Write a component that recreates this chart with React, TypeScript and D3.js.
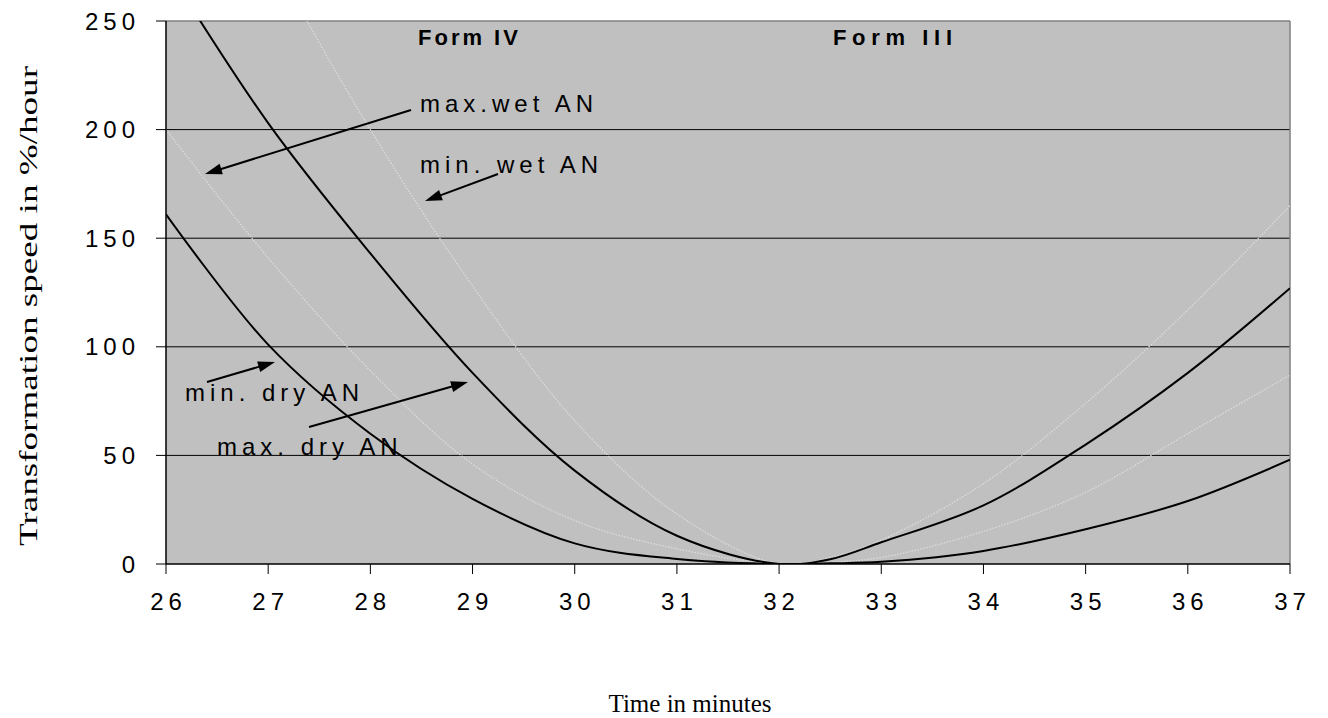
import React from "react";
import * as d3 from "d3";

const minutes = [26, 27, 28, 29, 30, 31, 32, 32.5, 33, 34, 35, 36, 37];
const maxDryAN = [275, 203, 143, 88, 43, 13, 0, 2.2, 10, 27, 55, 88, 127];
const minDryAN = [161, 101, 60, 30, 9.5, 2.3, 0, 0.3, 1, 6, 16, 29, 48];
const maxWetAN = [200, 141, 89, 46, 20, 7, 0, 0.8, 3, 15, 33, 60, 87];
const minWetAN = [380, 283, 200, 128, 66, 23, 0, 3, 11, 37, 74, 117, 165];
const yTicks = [0, 50, 100, 150, 200, 250];
const xTicks = [26, 27, 28, 29, 30, 31, 32, 33, 34, 35, 36, 37];

const W = 1328, H = 718;
const L = 166, R = 1290, T = 21, B = 564;

type Arrow = { x1: number; y1: number; x2: number; y2: number };

export default function App() {
  const x = d3.scaleLinear().domain([26, 37]).range([L, R]);
  const y = d3.scaleLinear().domain([0, 250]).range([B, T]);
  const line = d3
    .line<number>()
    .x((_, i) => x(minutes[i]))
    .y((d) => y(d))
    .curve(d3.curveCatmullRom.alpha(0.5));

  const sans = "'Liberation Sans', Arial, sans-serif";
  const serif = "'Liberation Serif', 'Times New Roman', serif";

  const arrows: Arrow[] = [
    { x1: 411, y1: 110, x2: 205, y2: 174 },
    { x1: 498, y1: 174, x2: 425, y2: 201 },
    { x1: 207, y1: 382, x2: 275, y2: 362 },
    { x1: 309, y1: 427, x2: 468, y2: 382 },
  ];

  const head = (a: Arrow) => {
    const ang = Math.atan2(a.y2 - a.y1, a.x2 - a.x1);
    const len = 17, w = 5.5;
    const bx = a.x2 - len * Math.cos(ang), by = a.y2 - len * Math.sin(ang);
    const px = -Math.sin(ang) * w, py = Math.cos(ang) * w;
    return `M${a.x2},${a.y2}L${bx + px},${by + py}L${bx - px},${by - py}Z`;
  };

  const shaft = (a: Arrow) => {
    const ang = Math.atan2(a.y2 - a.y1, a.x2 - a.x1);
    return { x1: a.x1, y1: a.y1, x2: a.x2 - 12 * Math.cos(ang), y2: a.y2 - 12 * Math.sin(ang) };
  };

  return (
    <svg width={W} height={H} style={{ position: "absolute", left: 0, top: 0, background: "#fff" }}>
      <defs>
        <clipPath id="plot">
          <rect x={L} y={T} width={R - L} height={B - T} />
        </clipPath>
      </defs>
      <rect x={L} y={T} width={R - L} height={B - T} fill="#C0C0C0" />
      {yTicks.slice(1, -1).map((t) => (
        <line key={t} x1={L} x2={R} y1={y(t)} y2={y(t)} stroke="#000" strokeWidth={1} />
      ))}
      <line x1={L} x2={R} y1={T} y2={T} stroke="#808080" strokeWidth={1.5} />
      <line x1={R} x2={R} y1={T} y2={B} stroke="#808080" strokeWidth={1.5} />

      <g clipPath="url(#plot)" fill="none">
        <path d={line(maxWetAN) || ""} stroke="#dcdcdc" strokeWidth={1.3} strokeDasharray="1.5 1.5" />
        <path d={line(minWetAN) || ""} stroke="#dcdcdc" strokeWidth={1.3} strokeDasharray="1.5 1.5" />
        <path d={line(minDryAN) || ""} stroke="#000" strokeWidth={2} />
        <path d={line(maxDryAN) || ""} stroke="#000" strokeWidth={2} />
      </g>

      <line x1={L} x2={L} y1={T} y2={B} stroke="#000" strokeWidth={1.5} />
      <line x1={L} x2={R} y1={B} y2={B} stroke="#000" strokeWidth={1.5} />

      {yTicks.map((t) => (
        <g key={t}>
          <line x1={L - 10} x2={L} y1={y(t)} y2={y(t)} stroke="#000" strokeWidth={1} />
          <text
            x={140}
            y={y(t)}
            textAnchor="end"
            dominantBaseline="central"
            fontFamily={sans}
            fontSize={24}
            letterSpacing={5}
          >
            {t}
          </text>
        </g>
      ))}
      {xTicks.map((t) => (
        <g key={t}>
          <line x1={x(t)} x2={x(t)} y1={B} y2={B + 10} stroke="#000" strokeWidth={1} />
          <text
            x={x(t) + 2.5}
            y={610}
            textAnchor="middle"
            fontFamily={sans}
            fontSize={24}
            letterSpacing={5}
          >
            {t}
          </text>
        </g>
      ))}

      <text x={690} y={712} textAnchor="middle" fontFamily={serif} fontSize={25}>
        Time in minutes
      </text>
      <text
        transform="translate(37,306) rotate(-90)"
        textAnchor="middle"
        fontFamily={serif}
        fontSize={25.5}
        textLength={480}
        lengthAdjust="spacingAndGlyphs"
      >
        Transformation speed in %/hour
      </text>

      <g fontFamily={sans} fontSize={24}>
        <text x={418} y={45} fontSize={22} fontWeight="bold" letterSpacing={3}>Form IV</text>
        <text x={833} y={45} fontSize={22} fontWeight="bold" letterSpacing={3} textLength={122} lengthAdjust="spacing">Form III</text>
        <text x={420} y={112} letterSpacing={5}>max.wet AN</text>
        <text x={420} y={173} letterSpacing={5}>min. wet AN</text>
        <text x={185} y={401} letterSpacing={5}>min. dry AN</text>
        <text x={217} y={455} letterSpacing={5}>max. dry AN</text>
      </g>

      {arrows.map((a, i) => {
        const s = shaft(a);
        return (
          <g key={i}>
            <line x1={s.x1} y1={s.y1} x2={s.x2} y2={s.y2} stroke="#000" strokeWidth={2} />
            <path d={head(a)} fill="#000" />
          </g>
        );
      })}
    </svg>
  );
}
